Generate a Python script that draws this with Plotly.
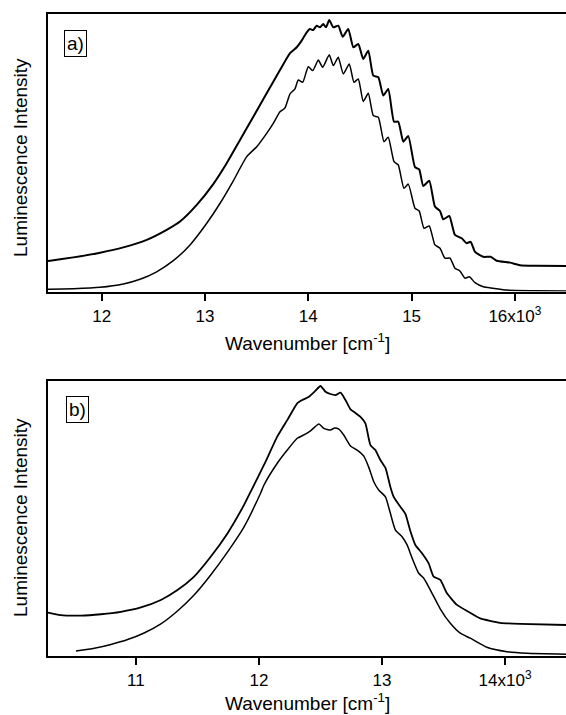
import plotly.graph_objects as go

# ---------------- Panel a) data (wavenumber in cm^-1, intensity in arb. units) ----------------
a_upper_x = [11480, 11500, 11725, 11985, 12209, 12436, 12629, 12758, 12920, 13080, 13210, 13339,
             13468, 13597, 13726, 13823, 13888, 13936, 13985, 14016, 14048, 14081, 14113, 14145,
             14171, 14203, 14242, 14290, 14333, 14387, 14436, 14484, 14532, 14581, 14629, 14678,
             14726, 14774, 14830, 14871, 14920, 14968, 15033, 15074, 15113, 15171, 15226, 15275,
             15307, 15365, 15420, 15485, 15533, 15572, 15614, 15694, 15766, 15824, 15953, 16049,
             16211, 16495]
a_upper_y = [11.0, 11.1, 12.3, 14.0, 15.9, 18.6, 22.2, 25.2, 31.2, 38.7, 46.2, 54.6,
             63.0, 71.4, 79.8, 85.9, 88.0, 90.4, 93.4, 94.6, 94.2, 95.8, 95.2, 96.4,
             95.2, 97.8, 95.2, 95.8, 91.8, 94.6, 88.0, 89.2, 83.8, 86.8, 77.8, 77.2,
             70.6, 73.0, 61.2, 61.2, 54.0, 56.0, 44.8, 44.0, 38.0, 39.9, 30.6, 29.0,
             26.0, 27.2, 20.4, 19.2, 17.4, 17.9, 14.3, 12.5, 12.5, 11.1, 10.4, 9.5,
             9.3, 9.2]

a_lower_x = [11480, 11500, 11725, 11985, 12209, 12371, 12532, 12693, 12855, 13017, 13146, 13274,
             13404, 13501, 13597, 13661, 13726, 13774, 13823, 13871, 13903, 13946, 14000, 14043,
             14097, 14139, 14203, 14242, 14290, 14339, 14397, 14442, 14484, 14532, 14581, 14629,
             14678, 14733, 14774, 14830, 14871, 14926, 14968, 15033, 15074, 15120, 15171, 15226,
             15275, 15323, 15372, 15420, 15468, 15517, 15559, 15614, 15694, 15791, 15920, 16178,
             16495]
a_lower_y = [0.8, 0.8, 1.0, 1.5, 2.7, 4.4, 7.1, 11.1, 16.8, 24.6, 31.8, 39.9,
             48.6, 52.2, 57.0, 60.6, 64.8, 66.1, 71.2, 73.0, 76.2, 75.4, 81.0, 79.6,
             83.4, 80.8, 85.3, 81.4, 84.4, 78.4, 82.0, 75.4, 76.6, 68.5, 71.4, 63.4,
             62.8, 54.0, 55.6, 46.8, 45.6, 37.2, 38.7, 30.0, 29.0, 22.8, 23.6, 16.8,
             15.6, 12.0, 12.0, 8.4, 7.4, 4.8, 5.3, 3.2, 1.7, 1.2, 0.5, 0.3,
             0.2]

# ---------------- Panel b) data ----------------
b_upper_x = [10286, 10387, 10554, 10716, 10878, 11041, 11203, 11338, 11473, 11608, 11744, 11878,
             11933, 12041, 12149, 12230, 12311, 12352, 12406, 12460, 12500, 12541, 12581, 12622,
             12663, 12703, 12744, 12784, 12825, 12865, 12906, 12946, 12987, 13028, 13068, 13095,
             13149, 13190, 13230, 13271, 13325, 13379, 13419, 13474, 13528, 13609, 13703, 13798,
             13960, 14122, 14495]
b_upper_y = [15.6, 14.7, 14.5, 15.0, 15.9, 17.5, 20.2, 23.8, 28.7, 35.9, 44.4, 54.7,
             59.6, 69.3, 79.6, 85.6, 91.7, 92.9, 94.1, 96.3, 98.0, 95.9, 95.1, 94.7,
             95.6, 92.9, 89.5, 88.2, 86.8, 84.4, 76.5, 74.7, 71.1, 68.2, 61.3, 57.7,
             54.1, 51.5, 45.3, 40.2, 37.2, 33.5, 28.7, 27.5, 22.6, 18.4, 15.9, 13.5,
             11.9, 11.5, 11.1]

b_lower_x = [10513, 10662, 10797, 10933, 11067, 11203, 11338, 11473, 11608, 11744, 11878, 12014,
             12041, 12149, 12230, 12311, 12365, 12419, 12487, 12527, 12581, 12614, 12649, 12689,
             12744, 12798, 12852, 12892, 12933, 12973, 13028, 13068, 13109, 13163, 13204, 13244,
             13298, 13338, 13393, 13474, 13555, 13636, 13717, 13852, 14015, 14177, 14495]
b_lower_y = [1.6, 2.6, 4.0, 5.8, 8.2, 11.5, 16.2, 22.0, 29.3, 37.6, 46.7, 59.1,
             62.0, 69.9, 74.7, 79.0, 80.2, 81.7, 84.2, 82.6, 82.0, 82.7, 82.3, 80.2,
             76.2, 74.7, 72.5, 68.5, 63.2, 60.2, 57.7, 51.7, 45.6, 43.2, 40.2, 35.5,
             29.9, 28.2, 23.8, 16.9, 11.7, 8.1, 6.3, 3.0, 1.4, 0.8, 0.5]

# ---------------- Axis ticks ----------------
a_tickvals = [12000, 13000, 14000, 15000, 16000]
a_ticktext = ["12", "13", "14", "15", "16x10<sup>3</sup>"]
b_tickvals = [11000, 12000, 13000, 14000]
b_ticktext = ["11", "12", "13", "14x10<sup>3</sup>"]
a_range = [11480, 16495]
b_range = [10286, 14495]

W, H = 566, 715
ML = 48
FONT = "Liberation Sans, Arial, sans-serif"

fig = go.Figure()
spl = dict(shape="spline", smoothing=0.5)
fig.add_trace(go.Scatter(x=a_upper_x, y=a_upper_y, mode="lines",
                         line=dict(color="black", width=2, **spl), xaxis="x", yaxis="y"))
fig.add_trace(go.Scatter(x=a_lower_x, y=a_lower_y, mode="lines",
                         line=dict(color="black", width=1.5, **spl), xaxis="x", yaxis="y"))
fig.add_trace(go.Scatter(x=b_upper_x, y=b_upper_y, mode="lines",
                         line=dict(color="black", width=1.8, **spl), xaxis="x2", yaxis="y2"))
fig.add_trace(go.Scatter(x=b_lower_x, y=b_lower_y, mode="lines",
                         line=dict(color="black", width=1.5, **spl), xaxis="x2", yaxis="y2"))


def py2paper(py):
    return 1 - py / H


def px2paper(px):
    return (px - ML) / (W - ML)


axis_common = dict(showgrid=False, zeroline=False, showline=True, linecolor="black",
                   linewidth=1.5)

fig.update_layout(
    width=W, height=H,
    margin=dict(l=ML, r=0, t=0, b=0),
    paper_bgcolor="white", plot_bgcolor="white",
    showlegend=False,
    font=dict(family=FONT, color="black", size=17),
    xaxis=dict(domain=[0, 1], range=a_range, anchor="y", mirror=True,
               ticks="outside", ticklen=8, tickwidth=1.5, tickcolor="black",
               tickvals=a_tickvals, ticktext=a_ticktext,
               tickfont=dict(size=17), **axis_common),
    yaxis=dict(domain=[py2paper(291.5), py2paper(14)], range=[0, 100], anchor="x",
               showticklabels=False, ticks="", **axis_common),
    xaxis2=dict(domain=[0, 1], range=b_range, anchor="y2", mirror=True,
                ticks="outside", ticklen=8, tickwidth=1.5, tickcolor="black",
                tickvals=b_tickvals, ticktext=b_ticktext,
                tickfont=dict(size=17), **axis_common),
    yaxis2=dict(domain=[py2paper(655.5), py2paper(380.5)], range=[0, 100], anchor="x2",
                showticklabels=False, ticks="", **axis_common),
)

annotations = [
    dict(text="Wavenumber [cm<sup>-1</sup>]", x=px2paper(307), y=py2paper(355), xref="paper", yref="paper",
         showarrow=False, xanchor="center", yanchor="bottom", font=dict(size=19), borderpad=0),
    dict(text="Wavenumber [cm<sup>-1</sup>]", x=px2paper(307), y=py2paper(715), xref="paper", yref="paper",
         showarrow=False, xanchor="center", yanchor="bottom", font=dict(size=19), borderpad=0),
    dict(text="Luminescence Intensity", x=px2paper(20), y=py2paper(158), xref="paper", yref="paper",
         showarrow=False, xanchor="center", yanchor="middle", textangle=-90, font=dict(size=19)),
    dict(text="Luminescence Intensity", x=px2paper(20), y=py2paper(518), xref="paper", yref="paper",
         showarrow=False, xanchor="center", yanchor="middle", textangle=-90, font=dict(size=19)),
    dict(text="a)", x=px2paper(75), y=py2paper(43), xref="paper", yref="paper",
         showarrow=False, xanchor="center", yanchor="middle", font=dict(size=19),
         bordercolor="black", borderwidth=1, borderpad=2, bgcolor="white"),
    dict(text="b)", x=px2paper(77), y=py2paper(409), xref="paper", yref="paper",
         showarrow=False, xanchor="center", yanchor="middle", font=dict(size=19),
         bordercolor="black", borderwidth=1, borderpad=2, bgcolor="white"),
]
fig.update_layout(annotations=annotations)

fig.write_html("out.html")
